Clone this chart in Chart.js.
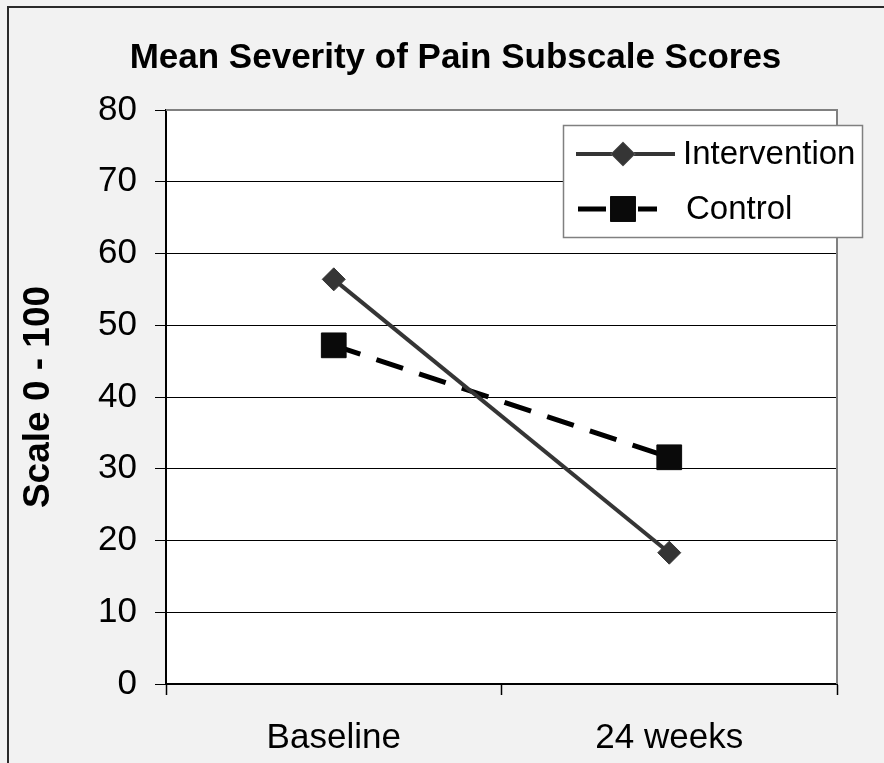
<!DOCTYPE html>
<html>
<head>
<meta charset="utf-8">
<script src="https://cdn.jsdelivr.net/npm/chart.js@4/dist/chart.umd.min.js"></script>
<style>
  html, body { margin: 0; padding: 0; background: #f2f2f2; }
  #wrap { width: 884px; height: 763px; }
</style>
</head>
<body>
<div id="wrap"><canvas id="c" width="884" height="763"></canvas></div>
<script>
const categories = ['Baseline', '24 weeks'];
const interventionValues = [56.4, 18.3];
const controlValues = [47.2, 31.6];
const seriesNames = ['Intervention', 'Control'];
const chartTitle = 'Mean Severity of Pain Subscale Scores';
const yAxisTitle = 'Scale 0 - 100';
const yMin = 0, yMax = 80, yStep = 10;

const FONT = "'Liberation Sans', Arial, sans-serif";

const backgroundPlugin = {
  id: 'bg',
  beforeDraw(chart) {
    const ctx = chart.ctx;
    const a = chart.chartArea;
    ctx.save();
    ctx.fillStyle = '#f2f2f2';
    ctx.fillRect(0, 0, chart.width, chart.height);
    ctx.fillStyle = '#ffffff';
    ctx.fillRect(a.left, a.top, a.right - a.left, a.bottom - a.top);
    ctx.strokeStyle = '#2a2a2a';
    ctx.lineWidth = 2;
    ctx.beginPath();
    ctx.moveTo(8, chart.height);
    ctx.lineTo(8, 7);
    ctx.lineTo(chart.width, 7);
    ctx.stroke();
    ctx.restore();
  },
  afterDatasetsDraw(chart) {
    const ctx = chart.ctx;
    const a = chart.chartArea;
    ctx.save();
    ctx.strokeStyle = '#808080';
    ctx.lineWidth = 2;
    ctx.beginPath();
    ctx.moveTo(a.left, a.top);
    ctx.lineTo(a.right, a.top);
    ctx.lineTo(a.right, a.bottom);
    ctx.stroke();
    ctx.restore();
  }
};

const legendPlugin = {
  id: 'boxLegend',
  afterDraw(chart) {
    const ctx = chart.ctx;
    const x0 = 563, y0 = 125, w = 299, h = 112;
    ctx.save();
    ctx.fillStyle = '#ffffff';
    ctx.fillRect(x0, y0, w, h);
    ctx.strokeStyle = '#808080';
    ctx.lineWidth = 1.5;
    ctx.strokeRect(x0 + 0.5, y0 + 0.5, w, h);
    const rows = [154, 209];
    chart.data.datasets.forEach((ds, i) => {
      const y = rows[i];
      ctx.save();
      ctx.strokeStyle = ds.borderColor;
      ctx.lineWidth = ds.borderWidth;
      ctx.beginPath();
      if (i === 0) { ctx.moveTo(576, y); ctx.lineTo(675, y); }
      else { ctx.moveTo(578, y); ctx.lineTo(606, y); ctx.moveTo(638, y); ctx.lineTo(657, y); }
      ctx.stroke();
      ctx.restore();
      Chart.helpers.drawPoint(ctx, {
        pointStyle: ds.pointStyle,
        radius: ds.pointRadius,
        borderWidth: ds.pointBorderWidth,
        rotation: 0
      }, 623, y);
      ctx.fillStyle = ds.pointBackgroundColor;
      ctx.strokeStyle = ds.pointBorderColor;
      ctx.lineWidth = ds.pointBorderWidth;
      ctx.fill();
      ctx.stroke();
      ctx.fillStyle = '#000';
      ctx.font = '33px ' + FONT;
      ctx.textBaseline = 'middle';
      ctx.textAlign = 'left';
      ctx.fillText(ds.label, i === 0 ? 683 : 686, y + 1);
    });
    ctx.restore();
  }
};

new Chart(document.getElementById('c'), {
  type: 'line',
  data: {
    labels: categories,
    datasets: [
      {
        label: seriesNames[0],
        data: interventionValues,
        borderColor: '#353535',
        borderWidth: 4,
        pointStyle: 'rectRot',
        pointRadius: 11.5,
        pointBackgroundColor: '#353535',
        pointBorderColor: '#353535',
        pointBorderWidth: 1,
        tension: 0,
        fill: false
      },
      {
        label: seriesNames[1],
        data: controlValues,
        borderColor: '#000000',
        borderWidth: 5,
        borderDash: [28, 17],
        pointStyle: 'rect',
        pointRadius: 17.5,
        pointBackgroundColor: '#0a0a0a',
        pointBorderColor: '#0a0a0a',
        pointBorderWidth: 1,
        tension: 0,
        fill: false
      }
    ]
  },
  options: {
    responsive: false,
    devicePixelRatio: 1,
    animation: false,
    layout: { padding: { left: 74, right: 47, top: 0, bottom: 0 } },
    plugins: {
      legend: { display: false },
      tooltip: { enabled: false },
      title: {
        display: true,
        text: chartTitle,
        color: '#000',
        font: { family: FONT, size: 35, weight: 'bold', lineHeight: 1.2 },
        padding: { top: 37, bottom: 31 }
      }
    },
    scales: {
      x: {
        type: 'category',
        offset: true,
        grid: {
          offset: true,
          drawOnChartArea: false,
          drawTicks: true,
          tickLength: 11,
          tickColor: '#000',
          tickWidth: 1.5
        },
        border: { color: '#000', width: 2 },
        ticks: {
          color: '#000',
          font: { family: FONT, size: 35 },
          padding: 22,
          maxRotation: 0
        },
        afterFit(scale) { scale.height = 79; }
      },
      y: {
        min: yMin,
        max: yMax,
        ticks: {
          stepSize: yStep,
          color: '#000',
          font: { family: FONT, size: 35 },
          padding: 18
        },
        grid: {
          color: (c) => (c.tick && c.tick.value === yMax ? '#808080' : '#000'),
          lineWidth: 1,
          tickLength: 11,
          tickColor: '#000',
          tickWidth: 1
        },
        border: { color: '#000', width: 2 },
        title: {
          display: true,
          text: yAxisTitle,
          color: '#000',
          font: { family: FONT, size: 37, weight: 'bold', lineHeight: 1.2 },
          padding: { top: -57, bottom: 0 }
        },
        afterFit(scale) { scale.width = 92; }
      }
    }
  },
  plugins: [backgroundPlugin, legendPlugin]
});
</script>
</body>
</html>
